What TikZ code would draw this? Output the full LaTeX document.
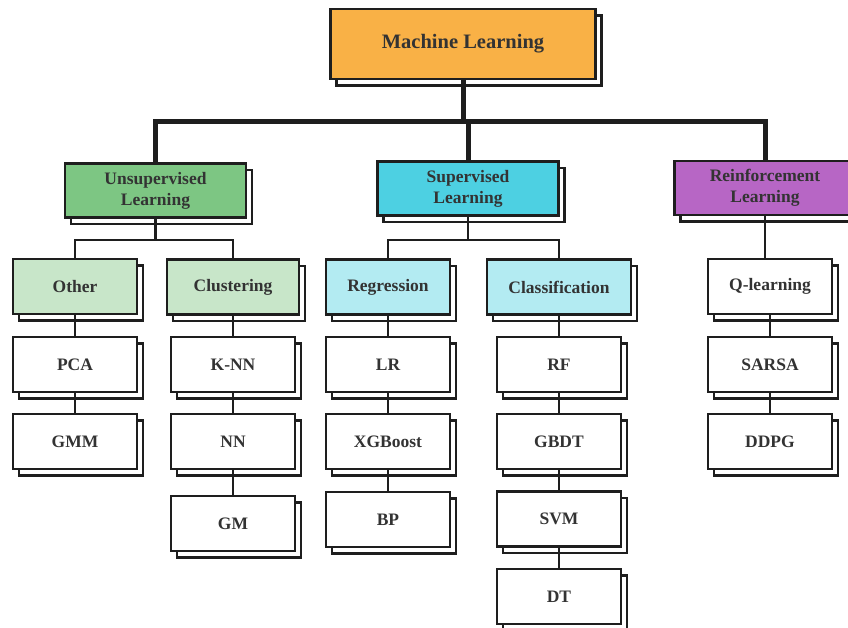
\documentclass[tikz,border=0pt]{standalone}
\usepackage{fontspec}
\setmainfont{Liberation Serif}
\usetikzlibrary{shadows}
\definecolor{boxline}{HTML}{1E1E1E}
\definecolor{textgray}{HTML}{333333}
\definecolor{mlorange}{HTML}{F9B146}
\definecolor{unsupgreen}{HTML}{7DC683}
\definecolor{supcyan}{HTML}{4DD0E2}
\definecolor{reinfpurple}{HTML}{B766C5}
\definecolor{lightgreen}{HTML}{C8E6C9}
\definecolor{lightcyan}{HTML}{B3EBF2}

\begin{document}
\begin{tikzpicture}
    [x=1pt,y=-1pt,
     box/.style={draw=boxline,line width=2.8pt,fill=white,text=textgray,
       font=\bfseries\fontsize{17.5}{21}\selectfont,align=center,inner sep=0pt,
       minimum width=124pt,minimum height=55pt,
       copy shadow={shadow xshift=6pt,shadow yshift=-6.5pt,fill=white,
         draw=boxline,line width=2.3pt}},
     topbox/.style={box,minimum width=181pt,minimum height=54pt},
     link/.style={draw=boxline,line width=2.2pt},
     trunk/.style={draw=boxline,line width=5pt}]
    \fill[white] (0,0) rectangle (848,628);
    \useasboundingbox (0,0) rectangle (848,628);
    % root
    \node[box,fill=mlorange,minimum width=265pt,minimum height=70pt,
      font=\bfseries\fontsize{20.5}{24}\selectfont] (ml) at (463,44) {Machine Learning};
    % first level
    \node[topbox,fill=unsupgreen] (unsup) at (155.5,190.5) {Unsupervised\\Learning};
    \node[topbox,fill=supcyan] (sup) at (468,188.5) {Supervised\\Learning};
    \node[topbox,fill=reinfpurple] (reinf) at (765,188) {Reinforcement\\Learning};
    % second level
    \node[box,fill=lightgreen] (other) at (75,286.5) {Other};
    \node[box,fill=lightgreen,minimum width=132pt] (clust) at (233,287) {Clustering};
    \node[box,fill=lightcyan] (regr) at (388,287) {Regression};
    \node[box,fill=lightcyan,minimum width=144pt] (classif) at (559,287) {Classification};
    \node[box] (qlearn) at (770,286.5) {Q-learning};
    % methods
    \node[box] (pca) at (75,364.5) {PCA};
    \node[box] (gmm) at (75,441.5) {GMM};
    \node[box] (knn) at (233,364.5) {K-NN};
    \node[box] (nn) at (233,441.5) {NN};
    \node[box] (gm) at (233,523.5) {GM};
    \node[box] (lr) at (388,364.5) {LR};
    \node[box] (xgb) at (388,441.5) {XGBoost};
    \node[box] (bp) at (388,519.5) {BP};
    \node[box] (rf) at (559,364.5) {RF};
    \node[box] (gbdt) at (559,441.5) {GBDT};
    \node[box] (svm) at (559,519) {SVM};
    \node[box] (dt) at (559,596.5) {DT};
    \node[box] (sarsa) at (770,364.5) {SARSA};
    \node[box] (ddpg) at (770,441.5) {DDPG};
    % trunk
    \coordinate (bar) at (468,122);
    \draw[trunk] (ml.south) -- (ml.south |- bar);
    \draw[trunk] (unsup.north) |- (bar) -| (reinf.north);
    \draw[trunk] (sup.north |- bar) -- (sup.north);
    % branches
    \draw[link] (unsup.south) -- ++(0,21) -| (other.north);
    \draw[link] (unsup.south) ++(0,21) -| (clust.north);
    \draw[link] (sup.south) -- ++(0,23) -| (regr.north);
    \draw[link] (sup.south) ++(0,23) -| (classif.north);
    \draw[link] (reinf.south) -- (reinf.south |- qlearn.north);
    \foreach \a/\b in {other/pca,pca/gmm,clust/knn,knn/nn,nn/gm,regr/lr,lr/xgb,
      xgb/bp,classif/rf,rf/gbdt,gbdt/svm,svm/dt,qlearn/sarsa,sarsa/ddpg}
      \draw[link] (\a.south) -- (\b.north);
\end{tikzpicture}
\end{document}
